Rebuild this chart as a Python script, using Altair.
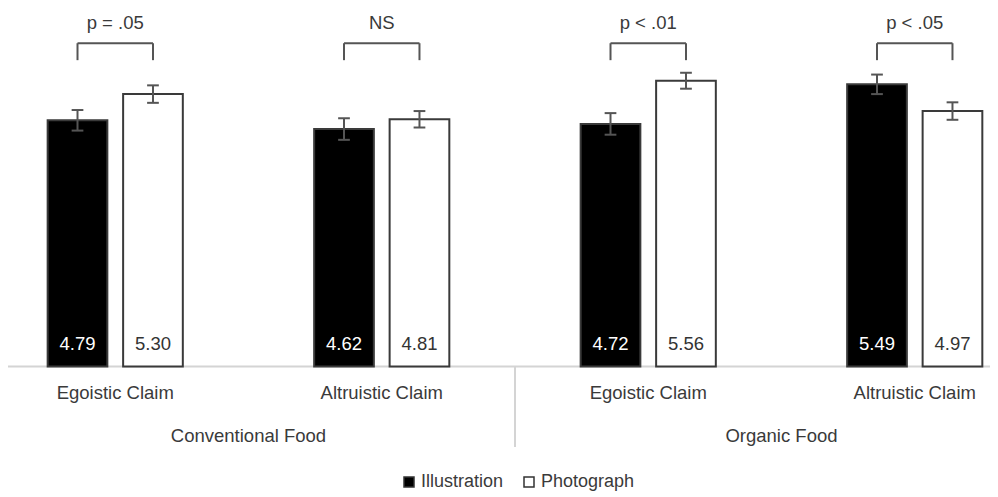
import altair as alt
import pandas as pd

# ---- data ----
foods = ["Conventional Food", "Organic Food"]
claims = ["Egoistic Claim", "Altruistic Claim", "Egoistic Claim", "Altruistic Claim"]
conditions = ["Illustration", "Photograph"]
illustration = [4.79, 4.62, 4.72, 5.49]
photograph = [5.30, 4.81, 5.56, 4.97]
illustration_err = [0.20, 0.21, 0.21, 0.19]
photograph_err = [0.17, 0.16, 0.155, 0.17]
p_labels = ["p = .05", "NS", "p < .01", "p < .05"]

# ---- layout constants (data units) ----
OFFSET = 0.1416      # bar centre offset from group centre
HALF = 0.112         # half bar width
CAP = 0.022          # half cap width
X_DOMAIN = [-0.4024, 3.2824]
Y_DOMAIN = [-2.5386, 6.975]
VAL_Y = 0.43
CLAIM_Y = -0.516
FOOD_Y = -1.352
DIV_Y = -1.566
BR_TOP = 6.29
BR_BOT = 5.96
P_Y = 6.68
FONT = "Liberation Sans"
FS = 18.5
TXT = "#3a3a3a"

rows = []
for i in range(4):
    for cond, vals, errs, sgn in [("Illustration", illustration, illustration_err, -1),
                                  ("Photograph", photograph, photograph_err, 1)]:
        xc = i + sgn * OFFSET
        rows.append(dict(group=i, condition=cond, value=vals[i], err=errs[i],
                         xc=xc, x0=xc - HALF, x1=xc + HALF,
                         lo=vals[i] - errs[i], hi=vals[i] + errs[i],
                         c0=xc - CAP, c1=xc + CAP,
                         label=f"{vals[i]:.2f}", vy=VAL_Y))
bars = pd.DataFrame(rows)

xs = alt.Scale(domain=X_DOMAIN, nice=False, zero=False)
ys = alt.Scale(domain=Y_DOMAIN, nice=False, zero=False)
X = lambda f: alt.X(f, type="quantitative", scale=xs, axis=None)
Y = lambda f: alt.Y(f, type="quantitative", scale=ys, axis=None)

base = alt.Chart(bars)

bar_layer = base.mark_bar(stroke="#3a3a3a", strokeWidth=2).encode(
    x=X("x0"), x2="x1", y=Y("value"), y2=alt.datum(0),
    fill=alt.Fill("condition:N",
                  scale=alt.Scale(domain=conditions, range=["#000000", "#ffffff"]),
                  legend=alt.Legend(orient="none", legendX=392, legendY=465,
                                    direction="horizontal", title=None,
                                    symbolType="square", symbolSize=100,
                                    symbolStrokeColor="#333333", symbolStrokeWidth=1.5,
                                    labelFont=FONT, labelFontSize=18, labelColor=TXT,
                                    labelOffset=3, columnPadding=16, padding=0)),
)

err_v = base.mark_rule(color="#555555", strokeWidth=2).encode(
    x=X("xc"), y=Y("lo"), y2="hi")
cap_lo = base.mark_rule(color="#555555", strokeWidth=2).encode(
    x=X("c0"), x2="c1", y=Y("lo"))
cap_hi = base.mark_rule(color="#555555", strokeWidth=2).encode(
    x=X("c0"), x2="c1", y=Y("hi"))

val_text = base.mark_text(font=FONT, fontSize=FS, baseline="middle").encode(
    x=X("xc"), y=Y("vy"), text="label:N",
    color=alt.condition(alt.datum.condition == "Illustration",
                        alt.value("#ffffff"), alt.value("#333333")))

# group annotations
grp = pd.DataFrame({
    "group": list(range(4)),
    "claim": claims,
    "p": p_labels,
    "left": [i - OFFSET for i in range(4)],
    "right": [i + OFFSET for i in range(4)],
    "cy": [CLAIM_Y] * 4,
    "py": [P_Y] * 4,
    "bt": [BR_TOP] * 4,
    "bb": [BR_BOT] * 4,
})
g = alt.Chart(grp)
claim_text = g.mark_text(font=FONT, fontSize=FS, color=TXT, baseline="middle").encode(
    x=X("group"), y=Y("cy"), text="claim:N")
p_text = g.mark_text(font=FONT, fontSize=FS, color=TXT, baseline="middle").encode(
    x=X("group"), y=Y("py"), text="p:N")
br_h = g.mark_rule(color="#555555", strokeWidth=2).encode(x=X("left"), x2="right", y=Y("bt"))
br_l = g.mark_rule(color="#555555", strokeWidth=2).encode(x=X("left"), y=Y("bt"), y2="bb")
br_r = g.mark_rule(color="#555555", strokeWidth=2).encode(x=X("right"), y=Y("bt"), y2="bb")

food_df = pd.DataFrame({"food": foods, "fx": [0.5, 2.5], "fy": [FOOD_Y, FOOD_Y]})
food_text = alt.Chart(food_df).mark_text(font=FONT, fontSize=FS, color=TXT, baseline="middle").encode(
    x=X("fx"), y=Y("fy"), text="food:N")

lines_df = pd.DataFrame({"x0": [X_DOMAIN[0]], "x1": [X_DOMAIN[1]], "y0": [0.0],
                         "dx": [1.5], "dy": [DIV_Y]})
ln = alt.Chart(lines_df)
baseline = ln.mark_rule(color="#d4d4d4", strokeWidth=2).encode(x=X("x0"), x2="x1", y=Y("y0"))
divider = ln.mark_rule(color="#d4d4d4", strokeWidth=2).encode(x=X("dx"), y=Y("y0"), y2="dy")

chart = alt.layer(
    baseline, divider, bar_layer, err_v, cap_lo, cap_hi, val_text,
    claim_text, p_text, br_h, br_l, br_r, food_text
).properties(
    width=982, height=489, autosize=alt.AutoSizeParams(type="none"), padding=0
).configure_view(stroke=None)

chart.save("out.html", embed_options={"renderer": "svg", "actions": False})
